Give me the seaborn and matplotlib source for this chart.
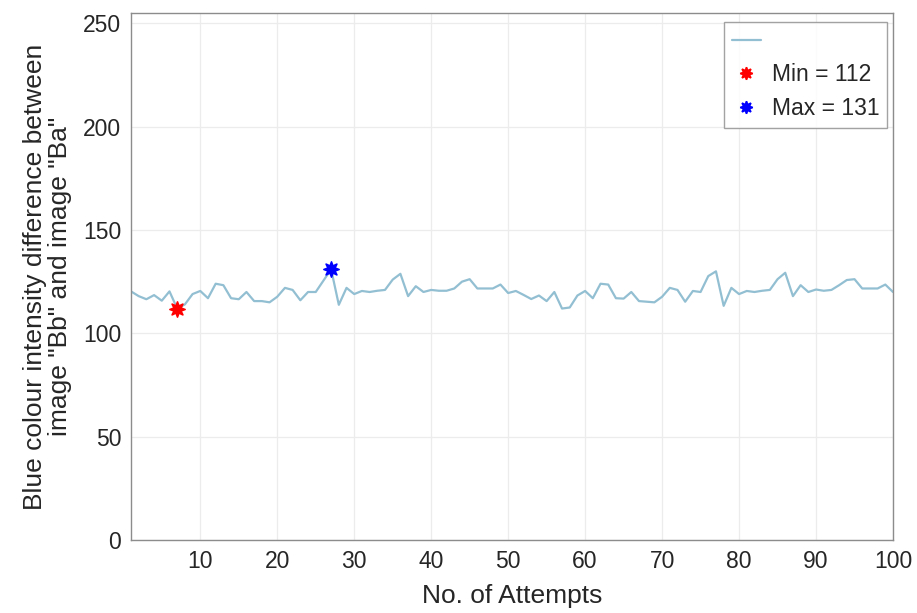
import numpy as np
import pandas as pd
import matplotlib
matplotlib.use("Agg")
import matplotlib.pyplot as plt
import seaborn as sns
from matplotlib.lines import Line2D

attempts = list(range(1, 101))
blue_diff = [120.3, 118, 116.5, 118.5, 115.8, 120.3, 112, 114, 119, 120.5,
             117, 124, 123.3, 117, 116.5, 120, 115.6, 115.6, 115, 117.7,
             122, 121, 116, 120, 120, 125.5, 131, 113.8, 122, 119,
             120.5, 120, 120.6, 121, 126, 128.8, 118, 122.8, 120, 121,
             120.6, 120.6, 121.7, 125, 126.2, 121.7, 121.7, 121.7, 123.6, 119.5,
             120.5, 118.6, 116.6, 118.3, 115.6, 120, 112, 112.5, 118.3, 120.5,
             117, 124, 123.6, 117, 116.8, 120, 115.6, 115.3, 115, 117.7,
             122, 121, 115.3, 120.5, 120, 127.7, 130, 113.3, 122, 119,
             120.5, 120, 120.6, 121, 126.2, 129.3, 118, 123.3, 120, 121.2,
             120.6, 121, 123.3, 125.8, 126.2, 121.7, 121.7, 121.7, 123.6, 120]
min_x, min_y = [7], [112]
max_x, max_y = [27], [131]
legend_labels = [" ", "Min = 112", "Max = 131"]

sns.set_style("white")
plt.rcParams['font.family'] = ['Liberation Sans', 'DejaVu Sans']

fig = plt.figure(figsize=(9.17, 6.13), dpi=100)
ax = fig.add_axes([131/917, 1-540/613, (893-131)/917, (540-13)/613])

df = pd.DataFrame({"x": attempts, "y": blue_diff})
line_color = "#93bfd2"
sns.lineplot(data=df, x="x", y="y", ax=ax, color=line_color, linewidth=1.6)
sns.scatterplot(x=min_x, y=min_y, ax=ax, color="red", marker=(8, 1, 0), s=120,
                edgecolor="red", linewidth=1.2, zorder=5)
sns.scatterplot(x=max_x, y=max_y, ax=ax, color="blue", marker=(8, 1, 0), s=120,
                edgecolor="blue", linewidth=1.2, zorder=5)

ax.set_xlim(1, 100)
ax.set_ylim(0, 255)
ax.set_xticks(range(10, 101, 10))
ax.set_yticks(range(0, 251, 50))
ax.grid(True, color="#ececec", linewidth=0.9)
ax.set_axisbelow(True)
for s in ax.spines.values():
    s.set_color("#8c8c8c")
    s.set_linewidth(1.0)
    s.set_visible(True)
ax.tick_params(direction="in", length=4, color="#8c8c8c", labelsize=16.5,
               labelcolor="#262626", top=False, right=False, pad=7)
ax.set_xlabel("No. of Attempts", fontsize=19, color="#262626", labelpad=8)
ax.set_ylabel('Blue colour intensity difference between\nimage "Bb" and image "Ba"',
              fontsize=19, color="#262626", labelpad=8, linespacing=1.05)

handles = [Line2D([], [], color=line_color, linewidth=1.6),
           Line2D([], [], color="red", marker=(8, 1, 0), linestyle="None",
                  markersize=9, markeredgewidth=1.2),
           Line2D([], [], color="blue", marker=(8, 1, 0), linestyle="None",
                  markersize=9, markeredgewidth=1.2)]
leg = ax.legend(handles, legend_labels, loc="upper right", fontsize=16.5,
                frameon=True, fancybox=False, edgecolor="#8c8c8c",
                bbox_to_anchor=(0.9925, 0.983), borderpad=0.35, handlelength=1.3,
                handletextpad=0.45, labelspacing=0.45, borderaxespad=0)
leg.get_frame().set_linewidth(1.0)

fig.savefig("out.png", dpi=100)
